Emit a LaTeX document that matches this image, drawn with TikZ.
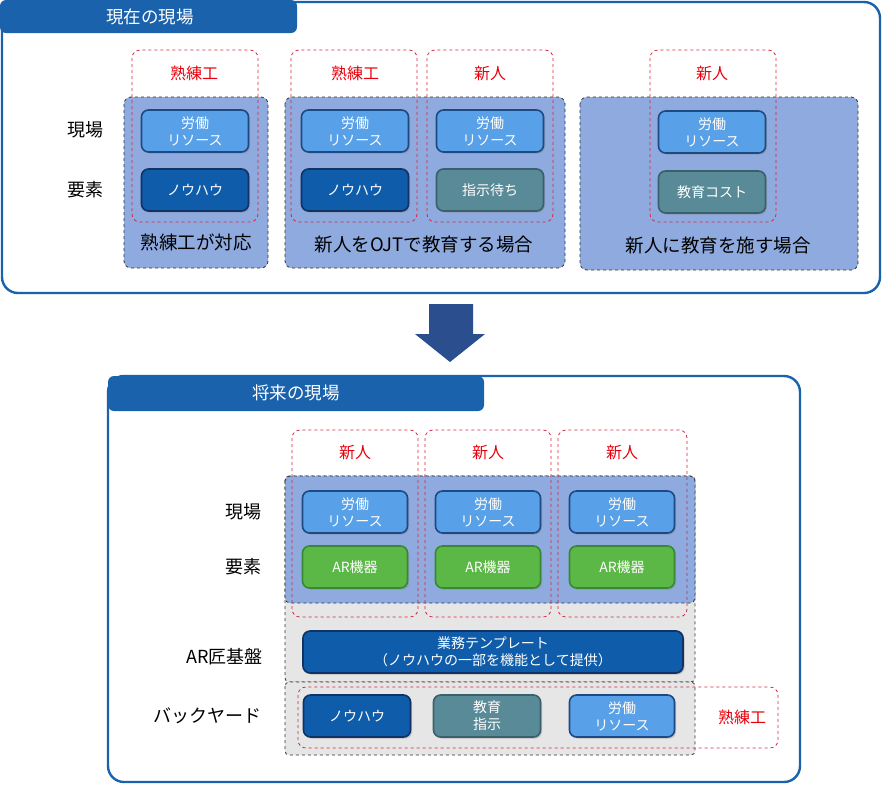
\documentclass[tikz,border=0pt]{standalone}
\usepackage{fontspec}
\setmainfont{Noto Sans CJK JP}
\usetikzlibrary{shadows}
\usetikzlibrary{positioning}
\definecolor{headblue}{RGB}{26,98,172}
\definecolor{groupblue}{RGB}{142,170,222}
\definecolor{layergrey}{RGB}{230,230,230}
\definecolor{personred}{RGB}{212,40,62}
\definecolor{rolered}{RGB}{232,0,12}
\definecolor{labourblue}{RGB}{88,160,232}
\definecolor{labourline}{RGB}{30,74,132}
\definecolor{knowblue}{RGB}{14,92,170}
\definecolor{knowline}{RGB}{16,50,100}
\definecolor{tealbox}{RGB}{88,138,152}
\definecolor{tealline}{RGB}{58,96,108}
\definecolor{devgreen}{RGB}{92,184,70}
\definecolor{devline}{RGB}{56,138,48}
\definecolor{arrowblue}{RGB}{42,78,142}
\tikzstyle{frame}=[draw=headblue,line width=2.4pt,rounded corners=16pt]
\tikzstyle{tab}=[fill=headblue,rounded corners=6pt]
\tikzstyle{group}=[fill=groupblue,draw=black!80,dashed,line width=0.8pt,rounded corners=7pt]
\tikzstyle{layer}=[fill=layergrey,draw=black!80,dashed,line width=0.8pt,rounded corners=4pt]
\tikzstyle{person}=[draw=personred,dashed,line width=0.8pt,rounded corners=8pt]
\tikzstyle{item}=[rounded corners=7pt,line width=1.6pt,minimum width=107pt,minimum height=42pt,align=center,text=white,font=\fontsize{14}{17}\selectfont,drop shadow={opacity=0.4,shadow xshift=1.5pt,shadow yshift=-1.5pt}]
\tikzstyle{labour}=[item,fill=labourblue,draw=labourline]
\tikzstyle{knowhow}=[item,fill=knowblue,draw=knowline]
\tikzstyle{waiting}=[item,fill=tealbox,draw=tealline]
\tikzstyle{device}=[item,fill=devgreen,draw=devline]
\tikzstyle{rowlabel}=[font=\fontsize{18}{20}\selectfont]
\tikzstyle{role}=[text=rolered,font=\fontsize{16}{18}\selectfont]
\tikzstyle{caption}=[font=\fontsize{18.5}{20}\selectfont]
\tikzstyle{tabtext}=[text=white,font=\fontsize{17.5}{19}\selectfont]

\begin{document}
\begin{tikzpicture}[x=1pt,y=-1pt]
    \useasboundingbox (0,0) rectangle (885,785);

    % current site
    \draw[frame] (2,2) rectangle (880,293);
    \fill[tab] (0,0) rectangle (297,33);
    \node[tabtext] (nowtitle) at (150,17) {現在の現場};

    \draw[group] (124,97) rectangle (268,268);
    \draw[group] (285,97) rectangle (565,268);
    \draw[group] (580,97) rectangle (858,270);
    \foreach \x in {132,291,427,650}
        \draw[person] (\x,50) rectangle (\x+126,222);

    \foreach \pos/\name/\label in {{(194,73)/r1/熟練工}, {(355,73)/r2/熟練工}, {(490,73)/r3/新人}, {(712,73)/r4/新人}}
        \node[role] (\name) at \pos {\label};

    \node[rowlabel] (nowsite) at (85,130) {現場};
    \node[rowlabel] (nowelem) at (85,190) {要素};

    \foreach \pos/\name in {{(195,131)/t1lab}, {(355,131)/t2lab}, {(490,131)/t3lab}, {(712,132)/t4lab}}
        \node[labour] (\name) at \pos {労働\\リソース};
    \foreach \pos/\name in {{(195,190)/t1know}, {(355,190)/t2know}}
        \node[knowhow] (\name) at \pos {ノウハウ};
    \node[waiting] (t3wait) at (490,190) {指示待ち};
    \node[waiting] (t4cost) at (712,192) {教育コスト};

    \node[caption] (c1) at (196,242) {熟練工が対応};
    \node[caption] (c2) at (424,244) {新人をOJTで教育する場合};
    \node[caption] (c3) at (718,245) {新人に教育を施す場合};

    % arrow
    \fill[arrowblue] (429,304) -- (473,304) -- (473,334) -- (485,334) -- (450,362) -- (415,334) -- (429,334) -- cycle;

    % future site
    \draw[frame] (108,376) rectangle (800,782);
    \fill[tab] (108,376) rectangle (484,411);
    \node[tabtext] (futtitle) at (296,393) {将来の現場};

    \draw[layer] (285,476) rectangle (695,682);
    \draw[layer] (285,682) rectangle (695,755);
    \draw[group,rounded corners=5pt] (285,476) rectangle (695,603);
    \foreach \x/\w in {292/126,425/126,558/129}
        \draw[person] (\x,430) rectangle (\x+\w,617);
    \draw[person] (298,687) rectangle (778,748);

    \foreach \pos/\name/\label in {{(355,452)/n1/新人}, {(488,452)/n2/新人}, {(622,452)/n3/新人}, {(742,717)/n4/熟練工}}
        \node[role] (\name) at \pos {\label};

    \node[rowlabel,anchor=east] (futsite) at (265,512) {現場};
    \node[rowlabel,anchor=east] (futelem) at (265,567) {要素};
    \node[rowlabel,anchor=east] (futbase) at (266,657) {AR匠基盤};
    \node[rowlabel,anchor=east] (futback) at (265,716) {バックヤード};

    \foreach \pos/\name in {{(355,512)/b1lab}, {(488,512)/b2lab}, {(622,512)/b3lab}}
        \node[labour,minimum width=105pt] (\name) at \pos {労働\\リソース};
    \foreach \pos/\name in {{(355,567)/b1ar}, {(488,567)/b2ar}, {(622,567)/b3ar}}
        \node[device,minimum width=105pt] (\name) at \pos {AR機器};

    \node[knowhow,minimum width=380pt] (tmpl) at (493,652) {業務テンプレート\\（ノウハウの一部を機能として提供）};

    \node[knowhow] (byknow) at (357,716) {ノウハウ};
    \node[waiting] (byedu) at (487,716) {教育\\指示};
    \node[labour,minimum width=105pt] (bylab) at (622,716) {労働\\リソース};
\end{tikzpicture}
\end{document}
